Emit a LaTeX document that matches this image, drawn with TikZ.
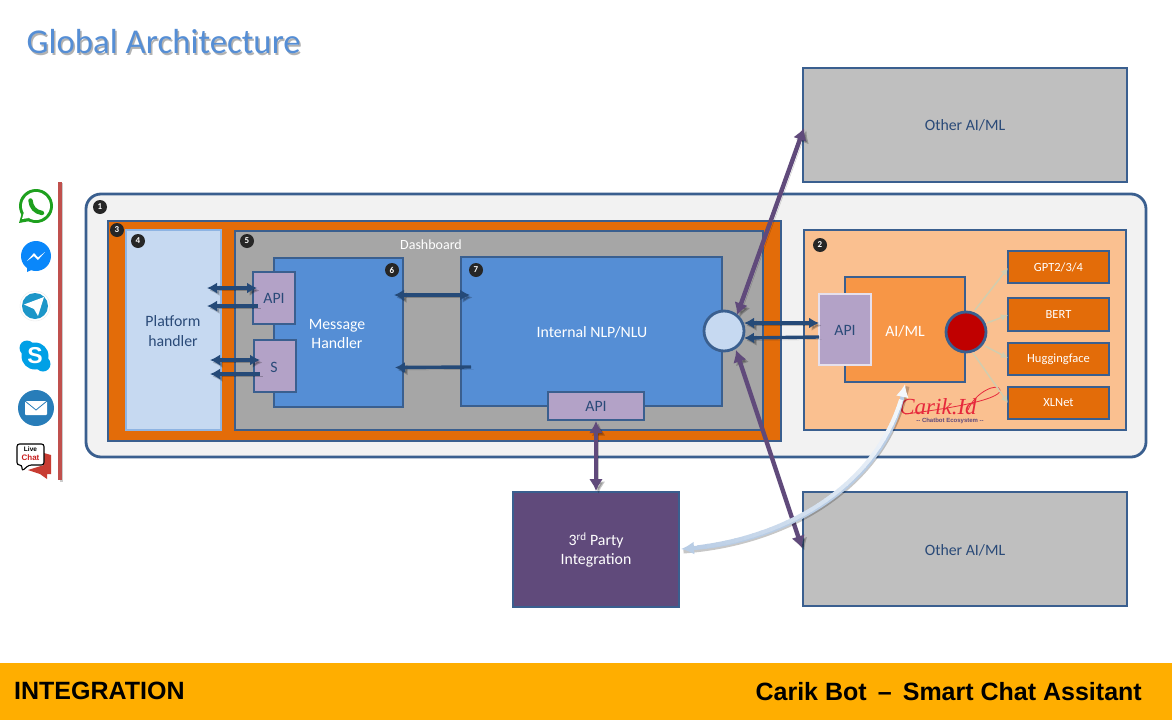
\documentclass[tikz,border=0pt]{standalone}
\usepackage{fontspec}
\setmainfont{Carlito}
\newfontfamily\foot{Liberation Sans}
\newfontfamily\logofont{Liberation Serif}
\usetikzlibrary{arrows.meta,calc}
\definecolor{edge}{HTML}{3A5F8F}
\definecolor{navy}{HTML}{254A78}
\definecolor{txt}{HTML}{2A4A78}
\definecolor{plum}{HTML}{604A7B}
\definecolor{lilac}{HTML}{B3A2C7}
\definecolor{orng}{HTML}{E36C09}
\definecolor{peach}{HTML}{FAC090}
\definecolor{orng2}{HTML}{F79646}
\definecolor{midblue}{HTML}{558ED5}
\definecolor{pale}{HTML}{C6D9F1}
\definecolor{curveA}{HTML}{B9CDE5}
\definecolor{curveB}{HTML}{F4F8FC}
\definecolor{thin}{HTML}{D2CDAE}
\definecolor{wgreen}{RGB}{30,160,30}
\definecolor{mblue}{RGB}{10,135,250}
\definecolor{tblue}{RGB}{28,150,200}
\definecolor{sblue}{RGB}{0,160,230}
\definecolor{mailblue}{RGB}{40,125,185}
\definecolor{chatred}{RGB}{200,60,50}
\definecolor{logored}{RGB}{230,40,60}
\definecolor{barred}{RGB}{192,80,77}
\definecolor{footer}{RGB}{255,174,0}
\newcommand{\rbox}[7]{%
  \pgfmathsetmacro\cxv{(#3+#5-1)/2}\pgfmathsetmacro\cyv{(#4+#6-1)/2}%
  \pgfmathsetmacro\wv{#5-#3-1}\pgfmathsetmacro\hv{#6-#4-1}%
  \node[box,#2,minimum width=\wv pt,minimum height=\hv pt] (#1) at (\cxv,\cyv) {#7};}
\newcommand{\badge}[4]{\node[badgenode] (#1) at (#2,#3) {#4};}
\tikzset{
  x=1pt,y=-1pt,
  box/.style={draw=edge,line width=2.8pt,inner sep=0pt,outer sep=0pt,align=center,text=txt,font=\fontsize{15.8}{19.5}\selectfont},
  smallbox/.style={fill=orng,text=white,font=\fontsize{12.5}{14}\selectfont},
  boxlabel/.style={inner sep=0pt,align=center,font=\fontsize{15.8}{19.5}\selectfont},
  badgenode/.style={circle,fill=black!85,draw=none,minimum size=14pt,inner sep=0pt,text=white,font=\fontsize{9}{9}\selectfont\bfseries},
  sh/.style={preaction={draw=black,draw opacity=.22,fill opacity=.22,transform canvas={shift={(2.5pt,-2.5pt)}}}},
  navyarrow/.style={draw=navy,line width=3.4pt,sh},
  navyboth/.style={navyarrow,{Latex[length=10pt,width=11pt]}-{Latex[length=10pt,width=11pt]}},
  navyback/.style={navyarrow,{Latex[length=10pt,width=11pt]}-},
  plumboth/.style={draw=plum,line width=4.4pt,sh,{Latex[length=12pt,width=14pt]}-{Latex[length=12pt,width=14pt]}},
  thinarrow/.style={draw=thin,line width=1.5pt,-{Latex[length=7pt,width=7pt]}},
}
\begin{document}
\begin{tikzpicture}
\useasboundingbox (0,0) rectangle (1172,720);
\fill[white] (0,0) rectangle (1172,720);
% title
\node[anchor=west,text=black!30,inner sep=0pt,font=\fontsize{34.8}{34.8}\selectfont] (titleshadow) at (28,43.5) {Global Architecture};
\node[anchor=west,text=midblue,inner sep=0pt,font=\fontsize{34.8}{34.8}\selectfont] (title) at (26.5,42) {Global Architecture};
% footer
\fill[footer] (0,663) rectangle (1172,720);
\node[anchor=west,inner sep=0pt,font=\foot\bfseries\fontsize{25}{25}\selectfont] (integ) at (14,691) {INTEGRATION};
\node[anchor=east,inner sep=0pt,font=\foot\bfseries\fontsize{25}{25}\selectfont] (carikbot) at (1142,692) {Carik Bot\, –\, Smart Chat Assitant};
% red bar
\fill[black!20] (60,183) rectangle (63,482);
\fill[barred] (58,182) rectangle (62,480);
% icons
% whatsapp
\fill[wgreen] (36,206) circle[radius=17];
\fill[wgreen] (19,223) -- (22.5,211) -- (30,221) -- cycle;
\fill[white] (36,206) circle[radius=14];
\fill[white] (22,219) -- (24,212) -- (29,218) -- cycle;
\draw[line width=4.4pt,line cap=round,draw=wgreen] (30.5,200.5) .. controls (31,207) and (35,212) .. (42,213);
% messenger
\fill[mblue] (36,256) circle[radius=15];
\fill[mblue] (27,265) -- (27,272) -- (36,268) -- cycle;
\fill[white] (27,261) -- (34,253) -- (38,257.5) -- (45,252) -- (38,260) -- (34,256) -- cycle;
% telegram
\fill[white] (35,306) circle[radius=15];
\draw[black!8] (35,306) circle[radius=15];
\fill[tblue] (35,306) circle[radius=13];
\fill[white] (24,304.5) -- (44,297) -- (38,316) -- (34,309) -- cycle;
% skype
\fill[sblue] (35,356) circle[radius=13.5];
\fill[sblue] (27,348) circle[radius=7.5];
\fill[sblue] (43,364) circle[radius=7.5];
\node[text=white,inner sep=0pt,font=\foot\bfseries\fontsize{23}{23}\selectfont] (skypeS) at (35,356) {S};
% mail
\fill[mailblue] (36,408) circle[radius=18];
\fill[white,rounded corners=1pt] (25,401) rectangle (47,415);
\draw[draw=mailblue,line width=.8pt] (25,401) -- (36,410) -- (47,401);
% live chat
\fill[chatred] (44,453) -- (51,455) -- (51,474) -- (47,474) -- (47,479) -- (40,474) -- (28,470) -- (44,465) -- cycle;
\draw[draw=black,line width=1.1pt,fill=white,rounded corners=2.5pt] (17,444) -- (44,444) -- (44,465) -- (29,465) -- (22,471) -- (22,465) -- (17,465) -- cycle;
\node[inner sep=0pt,font=\foot\bfseries\fontsize{6.5}{6.5}\selectfont] (livetxt) at (30.5,449.5) {Live};
\node[inner sep=0pt,text={rgb,255:red,200;green,30;blue,30},font=\foot\bfseries\fontsize{8}{8}\selectfont] (chattxt) at (30.5,457.5) {Chat};
% other boxes
\rbox{other1}{fill=black!25}{803}{68}{1128}{183}{}
\rbox{other2}{fill=black!25}{803}{492}{1128}{607}{}
\node[boxlabel,text=txt] (other1label) at (965,125) {Other AI/ML};
\node[boxlabel,text=txt] (other2label) at (965,550) {Other AI/ML};
% outer
\draw[draw=edge,line width=2.8pt,fill=black!5,rounded corners=15pt] (86,194) rectangle (1146,457);
\rbox{orange}{fill=orng}{108}{221}{782}{442}{}
\rbox{platform}{fill=pale,draw={rgb,255:red,142;green,180;blue,227}}{126}{230}{222}{431}{}
\node[boxlabel,text=txt] (platformlabel) at (173,331) {Platform\\handler};
\rbox{dash}{fill=black!35}{235}{231}{764}{431}{}
\node[text=white,inner sep=0pt,font=\fontsize{14}{16}\selectfont] (dashlabel) at (431,244.5) {Dashboard};
\rbox{msg}{fill=midblue}{274}{258}{404}{408}{}
\node[boxlabel,text=white] (msglabel) at (337,334) {Message\\Handler};
\rbox{nlp}{fill=midblue}{461}{257}{723}{407}{}
\node[boxlabel,text=white] (nlplabel) at (592,332) {Internal NLP/NLU};
\rbox{apia}{fill=lilac}{253}{272}{296}{325}{}
\node[boxlabel,text=txt] (apialabel) at (274,298) {API};
\rbox{apis}{fill=lilac}{254}{340}{297}{393}{}
\node[boxlabel,text=txt] (apislabel) at (274,367) {S};
\rbox{apib}{fill=lilac}{548}{392}{645}{421}{}
\node[boxlabel,text=txt] (apiblabel) at (596,406) {API};
\node[circle,draw=edge,line width=2.8pt,fill=pale,minimum size=40pt,inner sep=0pt] (hub) at (724,331) {};
% box 2
\rbox{two}{fill=peach}{804}{230}{1127}{431}{}
\rbox{aiml}{fill=orng2}{845}{277}{966}{383}{}
\node[boxlabel,text=white] (aimllabel) at (905,331) {AI/ML};
\rbox{apic}{fill=lilac,draw={rgb,255:red,230;green,224;blue,236}}{819}{294}{872}{366}{}
\node[boxlabel,text=txt] (apiclabel) at (845,330) {API};
\node[circle,draw=edge,line width=2.8pt,fill={rgb,255:red,192;green,0;blue,0},minimum size=40pt,inner sep=0pt] (red) at (966,332) {};
\rbox{gpt}{smallbox}{1008}{251}{1110}{284}{GPT2/3/4}
\rbox{bert}{smallbox}{1008}{298}{1110}{332}{BERT}
\rbox{hf}{smallbox}{1008}{343}{1110}{376}{Huggingface}
\rbox{xl}{smallbox}{1008}{387}{1110}{420}{XLNet}
\rbox{third}{fill=plum}{513}{492}{680}{608}{}
\node[boxlabel,text=white] (thirdlabel) at (596,550) {3\textsuperscript{rd} Party\\Integration};
% logo
\node[anchor=base,inner sep=0pt,text=logored,font=\logofont\itshape\fontsize{23}{23}\selectfont] (logo) at (938,414) {Carik.Id};
\node[inner sep=0pt,text=plum,font=\foot\bfseries\fontsize{6}{6}\selectfont] (logosub) at (950,420.5) {-- Chatbot Ecosystem --};
\coordinate (sw1) at (968,410);
\coordinate (sw2) at (905,414);
\draw[draw=logored,line width=.8pt] (sw2) .. controls (940,410) and (1002,400) .. (1000,390) .. controls (998,382) and (975,392) .. (sw1);
% badges
\badge{b1}{100}{207}{1}
\badge{b2}{820}{245}{2}
\badge{b3}{117}{230}{3}
\badge{b4}{138}{241}{4}
\badge{b5}{247}{241}{5}
\badge{b6}{392}{270}{6}
\badge{b7}{476}{270}{7}
% thin arrows
\coordinate (r1) at (975,310); \coordinate (t1) at (1008,268);
\coordinate (r2) at (987,323); \coordinate (t2) at (1008,315);
\coordinate (r3) at (985,346); \coordinate (t3) at (1008,358);
\coordinate (r4) at (973,353); \coordinate (t4) at (1008,403);
\draw[thinarrow] (r1) -- (t1);
\draw[thinarrow] (r2) -- (t2);
\draw[thinarrow] (r3) -- (t3);
\draw[thinarrow] (r4) -- (t4);
% navy arrows
\coordinate (a1) at (207,288); \coordinate (a2) at (257,288);
\coordinate (a3) at (207,306); \coordinate (a4) at (258,306);
\coordinate (a5) at (210,360); \coordinate (a6) at (260,360);
\coordinate (a7) at (210,374); \coordinate (a8) at (260,374);
\coordinate (m1) at (394,295); \coordinate (m2) at (470,295);
\coordinate (m3) at (395,367.5); \coordinate (m4) at (471,367);
\coordinate (h1) at (744,323); \coordinate (h2) at (819,323);
\coordinate (h3) at (744,338); \coordinate (h4) at (819,337);
\draw[navyboth] (a1) -- (a2);
\draw[navyback] (a3) -- (a4);
\draw[navyboth] (a5) -- (a6);
\draw[navyback] (a7) -- (a8);
\draw[navyboth] (m1) -- (m2);
\draw[navyback] (m3) -- (m4);
\draw[navyboth] (h1) -- (h2);
\draw[navyback] (h3) -- (h4);
% purple arrows
\coordinate (p1) at (804,128); \coordinate (p2) at (737,315);
\coordinate (p3) at (802,548); \coordinate (p4) at (736,350);
\coordinate (p5) at (596,421); \coordinate (p6) at (596,491);
\draw[plumboth] (p1) -- (p2);
\draw[plumboth] (p3) -- (p4);
\draw[plumboth] (p5) -- (p6);
% curved arrow
\coordinate (c0) at (681,549);
\coordinate (c3) at (905,384);
\draw[draw=black,draw opacity=.22,line width=4pt,transform canvas={shift={(2.5pt,-2.5pt)}}] (c0) .. controls (790,541) and (885,481) .. (c3);
\draw[draw=curveA,line width=4pt,{Latex[length=13pt,width=13pt,color=curveA]}-{Latex[length=13pt,width=13pt,color=curveB]}] (c0) .. controls (790,541) and (885,481) .. (c3);
\foreach \i in {1,...,30}{
  \pgfmathsetmacro\ta{0.05+(\i-1)/30*0.89}
  \pgfmathsetmacro\tb{0.05+\i/30*0.89+0.005}
  \pgfmathsetmacro\pct{min(100,\i*3.3)}
  \pgfmathsetmacro\xa{(1-\ta)^3*681+3*(1-\ta)^2*\ta*790+3*(1-\ta)*\ta^2*885+\ta^3*905}
  \pgfmathsetmacro\ya{(1-\ta)^3*549+3*(1-\ta)^2*\ta*541+3*(1-\ta)*\ta^2*481+\ta^3*384}
  \pgfmathsetmacro\xb{(1-\tb)^3*681+3*(1-\tb)^2*\tb*790+3*(1-\tb)*\tb^2*885+\tb^3*905}
  \pgfmathsetmacro\yb{(1-\tb)^3*549+3*(1-\tb)^2*\tb*541+3*(1-\tb)*\tb^2*481+\tb^3*384}
  \draw[draw=curveB!\pct!curveA,line width=4pt] (\xa,\ya) -- (\xb,\yb);
}
\end{tikzpicture}
\end{document}
